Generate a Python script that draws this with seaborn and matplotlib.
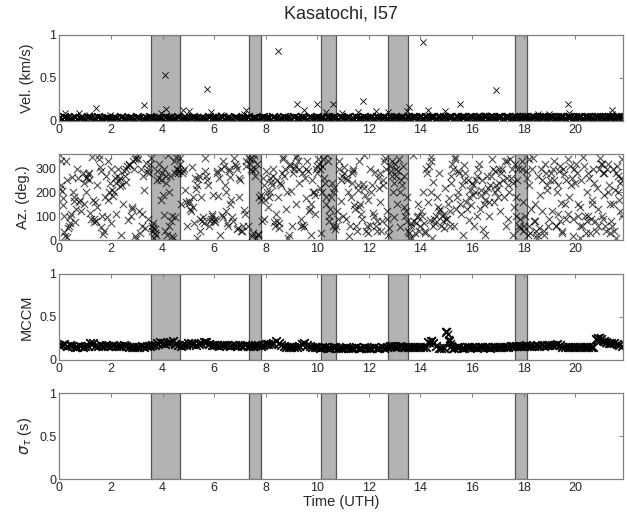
import numpy as np
import pandas as pd
import matplotlib
matplotlib.use("Agg")
import matplotlib.pyplot as plt
import seaborn as sns

# ---------------------------------------------------------------------------
# Data (time in hours UT)
# ---------------------------------------------------------------------------
T_STEP = 0.1          # sampling of the velocity / MCCM series
T_END = 21.85

# shaded windows (start, end)
band_start = [3.55, 7.36, 10.14, 12.75, 17.66]
band_end = [4.69, 7.83, 10.71, 13.53, 18.12]

# velocity baseline, hundredths of km/s, one value per 0.1 h
vel_base = [
    3, 2, 4, 3, 2, 3, 4, 2, 3, 3, 2, 4, 3, 2, 3, 4, 3, 2, 3, 2,
    2, 3, 3, 2, 4, 3, 2, 3, 3, 2, 4, 3, 2, 2, 3, 4, 3, 2, 3, 3,
    2, 4, 3, 3, 2, 3, 4, 2, 3, 3, 2, 3, 4, 3, 2, 3, 3, 2, 4, 3,
    3, 2, 3, 4, 2, 3, 3, 2, 4, 3, 2, 3, 3, 4, 2, 3, 3, 2, 3, 4,
    3, 3, 2, 4, 3, 2, 3, 4, 3, 3, 2, 4, 3, 3, 4, 3, 2, 4, 3, 3,
    4, 3, 3, 2, 4, 3, 4, 3, 2, 4, 3, 3, 4, 2, 3, 4, 3, 3, 4, 3,
    3, 4, 3, 4, 3, 3, 4, 3, 4, 3, 4, 3, 3, 4, 3, 4, 3, 4, 4, 3,
    4, 3, 4, 3, 4, 4, 3, 4, 3, 4, 3, 4, 4, 3, 4, 3, 4, 4, 3, 4,
    4, 3, 4, 4, 3, 4, 3, 4, 4, 3, 4, 4, 3, 4, 4, 3, 4, 4, 3, 4,
    4, 4, 3, 4, 4, 3, 4, 4, 4, 3, 4, 4, 3, 4, 4, 4, 3, 4, 4, 3,
    4, 4, 4, 3, 4, 4, 4, 3, 4, 4, 4, 3, 4, 4, 4, 3, 4, 4, 4,
]

# velocity outliers
vel_out_t = [0.22, 0.78, 1.16, 1.42, 1.97, 3.30, 3.95, 4.08, 4.14, 4.78,
             5.04, 5.71, 5.89, 6.27, 7.17, 7.22, 8.48, 9.20, 9.49, 9.98,
             10.34, 10.60, 10.95, 11.57, 11.78, 12.27, 12.76, 13.46, 13.57,
             14.11, 14.30, 14.95, 15.53, 16.50, 16.93, 18.55, 19.00, 19.73,
             19.76, 21.41, 21.41]
vel_out_v = [0.086, 0.086, 0.07, 0.15, 0.07, 0.18, 0.09, 0.53, 0.14, 0.13,
             0.11, 0.365, 0.10, 0.07, 0.08, 0.12, 0.81, 0.19, 0.12, 0.20,
             0.10, 0.20, 0.09, 0.10, 0.23, 0.11, 0.10, 0.11, 0.16,
             0.92, 0.13, 0.11, 0.19, 0.07, 0.36, 0.08, 0.08, 0.19,
             0.09, 0.12, 0.08]

# back-azimuth picks, first pass
az_time = [
    0.02, 0.06, 0.11, 0.15, 0.19, 0.24, 0.31, 0.37, 0.42, 0.48, 0.55, 0.61, 0.68, 0.77, 0.86, 0.94,
    1.03, 1.09, 1.14, 1.20, 1.27, 1.33, 1.38, 1.45, 1.52, 1.58, 1.63, 1.70, 1.78, 1.84, 1.90, 1.97,
    2.02, 2.08, 2.15, 2.21, 2.28, 2.34, 2.40, 2.47, 2.53, 2.60, 2.66, 2.72, 2.80, 2.86, 2.93, 2.98,
    3.03, 3.10, 3.16, 3.22, 3.28, 3.35, 3.42, 3.48, 3.55, 3.62, 3.70, 3.78, 3.86, 3.93, 3.99, 3.66,
    4.04, 4.09, 4.15, 4.21, 4.27, 4.32, 4.38, 4.44, 4.50, 4.55, 4.61, 4.66, 4.72, 4.80, 4.88, 4.95,
    5.02, 5.08, 5.15, 5.22, 5.30, 5.37, 5.44, 5.50, 5.57, 5.63, 5.70, 5.78, 5.85, 5.91, 5.96, 5.33,
    6.03, 6.10, 6.17, 6.24, 6.30, 6.36, 6.43, 6.50, 6.56, 6.63, 6.70, 6.77, 6.84, 6.90, 6.95, 6.60,
    7.02, 7.08, 7.15, 7.22, 7.30, 7.38, 7.43, 7.48, 7.55, 7.60, 7.66, 7.72, 7.80, 7.86, 7.92, 7.97,
    8.03, 8.09, 8.15, 8.20, 8.27, 8.33, 8.40, 8.47, 8.53, 8.60, 8.66, 8.72, 8.80, 8.86, 8.93, 8.98,
    9.03, 9.10, 9.16, 9.22, 9.28, 9.35, 9.42, 9.48, 9.55, 9.60, 9.67, 9.74, 9.80, 9.87, 9.93, 9.97,
    10.03, 10.09, 10.15, 10.20, 10.26, 10.32, 10.38, 10.44, 10.50, 10.56, 10.62, 10.68, 10.75, 10.83, 10.90, 10.96,
    11.03, 11.10, 11.17, 11.24, 11.30, 11.36, 11.43, 11.50, 11.56, 11.62, 11.70, 11.77, 11.83, 11.90, 11.95, 11.40,
    12.03, 12.10, 12.16, 12.22, 12.30, 12.36, 12.42, 12.50, 12.56, 12.62, 12.70, 12.76, 12.82, 12.88, 12.94, 12.98,
    13.04, 13.10, 13.16, 13.22, 13.28, 13.35, 13.40, 13.46, 13.52, 13.58, 13.65, 13.72, 13.80, 13.86, 13.92, 13.97,
    14.03, 14.10, 14.16, 14.23, 14.30, 14.36, 14.42, 14.50, 14.56, 14.63, 14.70, 14.77, 14.84, 14.90, 14.95, 14.45,
    15.03, 15.10, 15.17, 15.24, 15.30, 15.37, 15.44, 15.50, 15.57, 15.64, 15.70, 15.77, 15.84, 15.90, 15.96, 15.35,
    16.02, 16.08, 16.15, 16.22, 16.30, 16.36, 16.43, 16.50, 16.57, 16.64, 16.70, 16.77, 16.84, 16.90, 16.96, 16.52,
    17.03, 17.10, 17.17, 17.24, 17.30, 17.37, 17.44, 17.50, 17.57, 17.63, 17.70, 17.78, 17.85, 17.92, 17.97, 17.40,
    18.03, 18.10, 18.16, 18.22, 18.30, 18.36, 18.42, 18.50, 18.56, 18.63, 18.70, 18.77, 18.84, 18.90, 18.95, 18.45,
    19.03, 19.10, 19.17, 19.24, 19.30, 19.37, 19.44, 19.50, 19.57, 19.64, 19.70, 19.77, 19.84, 19.90, 19.96, 19.33,
    20.03, 20.10, 20.17, 20.24, 20.30, 20.37, 20.44, 20.50, 20.57, 20.64, 20.70, 20.77, 20.84, 20.90, 20.96, 20.20,
    21.03, 21.08, 21.13, 21.19, 21.25, 21.30, 21.36, 21.42, 21.48, 21.53, 21.58, 21.64, 21.70, 21.75, 21.80, 21.84,
]
az_deg = [
    355, 230, 205, 145, 35, 330, 12, 60, 95, 265, 180, 75, 300, 160, 120, 240,
    200, 265, 280, 115, 350, 90, 160, 230, 355, 305, 55, 25, 180, 95, 330, 240,
    70, 185, 260, 110, 300, 225, 20, 150, 270, 245, 85, 315, 130, 330, 15, 345,
    355, 120, 300, 60, 210, 325, 90, 280, 345, 50, 30, 250, 320, 170, 280, 10,
    105, 40, 270, 355, 200, 80, 15, 330, 95, 300, 280, 345, 150, 290, 210, 60,
    165, 130, 305, 70, 215, 255, 40, 180, 95, 345, 270, 230, 80, 110, 190, 10,
    75, 290, 185, 20, 105, 330, 230, 70, 300, 150, 95, 345, 310, 45, 180, 265,
    250, 40, 125, 310, 60, 340, 300, 15, 355, 270, 320, 25, 190, 80, 230, 170,
    290, 140, 200, 245, 300, 75, 110, 180, 50, 230, 350, 270, 130, 10, 320, 205,
    60, 300, 150, 355, 240, 90, 280, 55, 175, 330, 120, 20, 250, 200, 110, 310,
    340, 220, 30, 310, 260, 180, 355, 80, 130, 240, 200, 45, 120, 330, 165, 270,
    305, 90, 250, 15, 180, 280, 145, 60, 210, 330, 110, 235, 355, 40, 170, 300,
    65, 200, 115, 285, 40, 260, 160, 80, 230, 345, 120, 20, 310, 270, 200, 95,
    300, 150, 340, 55, 230, 270, 100, 180, 40, 10, 70, 355, 30, 95, 150, 60,
    120, 200, 30, 300, 160, 85, 350, 245, 70, 180, 280, 130, 100, 50, 220, 10,
    90, 175, 240, 320, 60, 130, 200, 280, 110, 20, 315, 160, 250, 85, 145, 350,
    190, 60, 250, 300, 130, 210, 45, 170, 270, 100, 230, 340, 160, 290, 215, 20,
    240, 120, 300, 180, 60, 330, 200, 260, 20, 140, 100, 300, 50, 330, 160, 90,
    60, 290, 20, 230, 130, 345, 80, 10, 270, 190, 120, 40, 320, 210, 60, 150,
    250, 120, 330, 60, 200, 290, 155, 40, 275, 90, 340, 180, 230, 15, 300, 110,
    320, 150, 60, 250, 350, 100, 200, 280, 30, 170, 300, 80, 220, 130, 345, 10,
    100, 280, 190, 40, 320, 230, 150, 60, 300, 210, 10, 270, 170, 120, 340, 250,
]

# back-azimuth picks, second pass (fills the clusters)
az_time2 = [
    0.04, 0.08, 0.13, 0.17, 0.22, 0.28, 0.33, 0.40, 0.46, 0.52, 0.58, 0.65, 0.72, 0.80, 0.90, 0.97,
    1.05, 1.12, 1.17, 1.23, 1.30, 1.36, 1.42, 1.48, 1.55, 1.61, 1.67, 1.74, 1.81, 1.87, 1.93, 1.99,
    2.05, 2.11, 2.18, 2.25, 2.31, 2.37, 2.44, 2.50, 2.57, 2.63, 2.69, 2.76, 2.83, 2.90, 2.95, 2.99,
    3.05, 3.12, 3.19, 3.25, 3.31, 3.38, 3.45, 3.51, 3.58, 3.64, 3.72, 3.80, 3.88, 3.95, 3.60, 3.75,
    4.02, 4.07, 4.12, 4.18, 4.24, 4.30, 4.35, 4.41, 4.47, 4.53, 4.58, 4.63, 4.68, 4.75, 4.84, 4.92,
    5.04, 5.11, 5.18, 5.25, 5.33, 5.40, 5.47, 5.54, 5.60, 5.66, 5.73, 5.81, 5.88, 5.93, 5.98, 5.20,
    6.05, 6.12, 6.20, 6.27, 6.33, 6.40, 6.46, 6.53, 6.59, 6.66, 6.73, 6.80, 6.87, 6.92, 6.98, 6.47,
    7.05, 7.12, 7.18, 7.25, 7.33, 7.40, 7.45, 7.50, 7.58, 7.63, 7.69, 7.75, 7.83, 7.89, 7.95, 7.52,
    8.05, 8.12, 8.18, 8.24, 8.30, 8.36, 8.43, 8.50, 8.56, 8.63, 8.69, 8.76, 8.83, 8.90, 8.95, 8.45,
    9.05, 9.12, 9.19, 9.25, 9.31, 9.38, 9.45, 9.51, 9.58, 9.63, 9.70, 9.77, 9.83, 9.90, 9.95, 9.99,
    10.05, 10.12, 10.17, 10.23, 10.29, 10.35, 10.41, 10.47, 10.53, 10.59, 10.65, 10.72, 10.79, 10.86, 10.93, 10.99,
    11.05, 11.13, 11.20, 11.27, 11.33, 11.39, 11.46, 11.53, 11.59, 11.66, 11.73, 11.80, 11.86, 11.92, 11.98, 11.60,
    12.05, 12.12, 12.19, 12.26, 12.33, 12.39, 12.45, 12.53, 12.59, 12.66, 12.72, 12.79, 12.85, 12.91, 12.96, 12.48,
    13.02, 13.07, 13.13, 13.19, 13.25, 13.31, 13.37, 13.43, 13.49, 13.55, 13.62, 13.68, 13.75, 13.83, 13.89, 13.95,
    14.05, 14.12, 14.19, 14.26, 14.33, 14.39, 14.47, 14.53, 14.60, 14.66, 14.73, 14.80, 14.87, 14.93, 14.98, 14.40,
    15.05, 15.13, 15.20, 15.27, 15.34, 15.41, 15.47, 15.53, 15.60, 15.67, 15.73, 15.80, 15.87, 15.93, 15.98, 15.15,
    16.05, 16.12, 16.19, 16.26, 16.33, 16.40, 16.46, 16.53, 16.60, 16.67, 16.73, 16.80, 16.87, 16.93, 16.99, 16.20,
    17.05, 17.13, 17.20, 17.27, 17.34, 17.41, 17.47, 17.53, 17.60, 17.66, 17.73, 17.80, 17.87, 17.94, 17.99, 17.70,
    18.05, 18.12, 18.19, 18.26, 18.33, 18.39, 18.47, 18.53, 18.60, 18.66, 18.73, 18.80, 18.87, 18.92, 18.98, 18.20,
    19.05, 19.12, 19.19, 19.26, 19.33, 19.40, 19.47, 19.53, 19.60, 19.66, 19.73, 19.80, 19.87, 19.93, 19.98, 19.42,
    20.05, 20.12, 20.19, 20.26, 20.33, 20.40, 20.47, 20.53, 20.60, 20.66, 20.73, 20.80, 20.87, 20.93, 20.98, 20.50,
    21.02, 21.06, 21.11, 21.16, 21.22, 21.28, 21.33, 21.39, 21.45, 21.50, 21.56, 21.62, 21.67, 21.72, 21.78, 21.83,
]
az_deg2 = [
    215, 330, 175, 100, 15, 250, 50, 70, 110, 200, 165, 130, 260, 170, 280, 150,
    260, 275, 250, 90, 170, 75, 80, 140, 340, 290, 100, 40, 270, 170, 200, 300,
    210, 200, 240, 270, 250, 260, 230, 290, 300, 310, 320, 100, 140, 300, 340, 5,
    340, 30, 110, 270, 50, 285, 300, 320, 60, 70, 45, 290, 260, 250, 40, 20,
    190, 300, 240, 20, 60, 270, 100, 10, 280, 350, 300, 290, 320, 280, 300, 160,
    155, 120, 140, 260, 230, 270, 90, 80, 70, 290, 250, 60, 90, 100, 80, 180,
    90, 280, 260, 300, 95, 310, 200, 60, 290, 170, 80, 320, 300, 50, 260, 120,
    40, 60, 110, 330, 350, 320, 290, 340, 300, 10, 20, 180, 170, 260, 90, 30,
    200, 180, 260, 230, 270, 60, 80, 70, 240, 280, 340, 300, 200, 20, 310, 250,
    280, 310, 350, 330, 300, 60, 65, 260, 300, 290, 130, 150, 200, 190, 300, 280,
    320, 300, 200, 340, 240, 150, 330, 100, 180, 60, 220, 60, 90, 300, 250, 100,
    280, 260, 200, 60, 240, 290, 130, 40, 230, 150, 90, 220, 190, 60, 30, 140,
    300, 230, 100, 60, 80, 220, 280, 250, 330, 300, 90, 50, 290, 330, 240, 40,
    320, 270, 290, 200, 250, 310, 140, 120, 80, 30, 60, 10, 80, 70, 100, 40,
    100, 70, 40, 280, 310, 200, 60, 90, 100, 140, 120, 60, 80, 110, 90, 330,
    150, 120, 270, 300, 340, 180, 290, 150, 230, 250, 280, 130, 180, 210, 240, 60,
    230, 200, 270, 320, 190, 250, 150, 200, 220, 160, 270, 300, 200, 230, 180, 100,
    300, 280, 250, 330, 260, 230, 340, 300, 240, 320, 250, 60, 90, 300, 40, 180,
    100, 260, 60, 30, 300, 80, 40, 20, 50, 300, 250, 20, 280, 230, 90, 340,
    280, 300, 250, 60, 230, 80, 30, 300, 150, 250, 110, 310, 260, 90, 240, 310,
    280, 100, 140, 60, 310, 30, 80, 260, 90, 150, 240, 40, 60, 300, 320, 100,
    320, 90, 280, 60, 300, 200, 30, 80, 150, 40, 280, 310, 200, 240, 260, 100,
]

# MCCM, hundredths, one value per 0.1 h
mccm = [
    17, 17, 18, 16, 17, 16, 15, 15, 16, 15, 16, 16, 20, 19, 16, 16, 17, 16, 17, 16,
    16, 17, 16, 16, 16, 17, 16, 15, 15, 15, 15, 15, 16, 15, 16, 16, 17, 17, 19, 21,
    20, 18, 19, 21, 22, 18, 17, 16, 17, 17, 20, 19, 18, 17, 18, 20, 21, 21, 18, 17,
    17, 17, 16, 17, 17, 17, 16, 17, 17, 16, 17, 16, 17, 16, 16, 16, 17, 17, 16, 17,
    18, 18, 18, 19, 22, 19, 17, 16, 15, 15, 15, 15, 15, 16, 18, 20, 17, 16, 15, 15,
    15, 14, 15, 15, 14, 14, 15, 15, 14, 14, 14, 15, 14, 14, 14, 15, 14, 14, 15, 14,
    14, 14, 15, 14, 14, 15, 14, 15, 16, 16, 16, 15, 16, 15, 15, 15, 15, 15, 15, 15,
    15, 15, 15, 21, 22, 20, 16, 14, 14, 14, 32, 22, 16, 14, 15, 15, 14, 14, 15, 15,
    15, 15, 14, 15, 15, 15, 15, 14, 15, 15, 15, 15, 15, 15, 15, 16, 16, 16, 16, 16,
    16, 17, 16, 16, 16, 17, 16, 17, 16, 17, 17, 17, 17, 18, 17, 15, 15, 15, 15, 15,
    15, 15, 15, 15, 15, 15, 15, 15, 24, 25, 24, 22, 21, 20, 20, 19, 18, 17, 16,
]
mccm_extra_t = [14.35, 14.45, 14.97, 15.05, 15.12, 15.18, 15.22, 20.85, 20.95, 21.05, 21.2]
mccm_extra_v = [0.20, 0.23, 0.33, 0.30, 0.24, 0.20, 0.13, 0.23, 0.26, 0.22, 0.19]

# ---------------------------------------------------------------------------
sns.set_style("white")
plt.rcParams["font.family"] = ["Liberation Sans", "DejaVu Sans"]
plt.rcParams["mathtext.fontset"] = "dejavusans"

t_grid = np.round(np.arange(len(mccm)) * T_STEP, 2)
vel_df = pd.DataFrame({"t": t_grid, "v": np.array(vel_base) / 100.0})
mccm_df = pd.DataFrame({"t": t_grid, "v": np.array(mccm) / 100.0})
az_df = pd.DataFrame({"t": az_time + az_time2, "az": az_deg + az_deg2})

fig = plt.figure(figsize=(6.27, 5.14), dpi=100)
left, width, height = 0.0946, 0.899, 0.167
bottoms = [0.765, 0.533, 0.300, 0.0675]
axes = [fig.add_axes([left, b, width, height]) for b in bottoms]

BAND_FACE = "#b3b3b3"
BAND_EDGE = "#555555"
SPINE = "#808080"
mk = dict(marker="x", color="black", legend=False)

for ax in axes:
    for s, e in zip(band_start, band_end):
        ax.axvspan(s, e, facecolor=BAND_FACE, edgecolor=BAND_EDGE, linewidth=0.9, zorder=0)

# Velocity
ax = axes[0]
sns.scatterplot(data=vel_df, x="t", y="v", s=38, linewidth=1.3, ax=ax, zorder=2, **mk)
sns.scatterplot(x=vel_out_t, y=vel_out_v, s=20, linewidth=0.6, ax=ax, zorder=2, **mk)
ax.set_ylim(0, 1)
ax.set_yticks([0, 0.5, 1])
ax.set_yticklabels(["0", "0.5", "1"])
ax.set_ylabel("Vel. (km/s)")
ax.set_title("Kasatochi, I57", fontsize=13, pad=12)

# Azimuth
ax = axes[1]
sns.scatterplot(data=az_df, x="t", y="az", s=28, linewidth=0.8, alpha=0.7, ax=ax, zorder=2, **mk)
ax.set_ylim(0, 360)
ax.set_yticks([0, 100, 200, 300])
ax.set_ylabel("Az. (deg.)")

# MCCM
ax = axes[2]
sns.scatterplot(data=mccm_df, x="t", y="v", s=38, linewidth=1.3, ax=ax, zorder=2, **mk)
sns.scatterplot(x=mccm_extra_t, y=mccm_extra_v, s=26, linewidth=1.0, ax=ax, zorder=2, **mk)
ax.set_ylim(0, 1)
ax.set_yticks([0, 0.5, 1])
ax.set_yticklabels(["0", "0.5", "1"])
ax.set_ylabel("MCCM")

# sigma tau
ax = axes[3]
ax.set_ylim(0, 1)
ax.set_yticks([0, 0.5, 1])
ax.set_yticklabels(["0", "0.5", "1"])
ax.set_ylabel(r"$\sigma_\tau$ (s)")
ax.set_xlabel("Time (UTH)", fontsize=10.5, labelpad=1)

for ax in axes:
    ax.set_xlim(0, T_END)
    ax.set_xticks(range(0, 21, 2))
    ax.tick_params(direction="in", length=3, width=0.7, color=SPINE,
                   top=True, right=True, labelsize=9, pad=2)
    ax.yaxis.label.set_size(10.5)
    for sp in ax.spines.values():
        sp.set_color(SPINE)
        sp.set_linewidth(0.9)
        sp.set_visible(True)
    if ax is not axes[3]:
        ax.set_xlabel("")

fig.savefig("out.png", dpi=100)
